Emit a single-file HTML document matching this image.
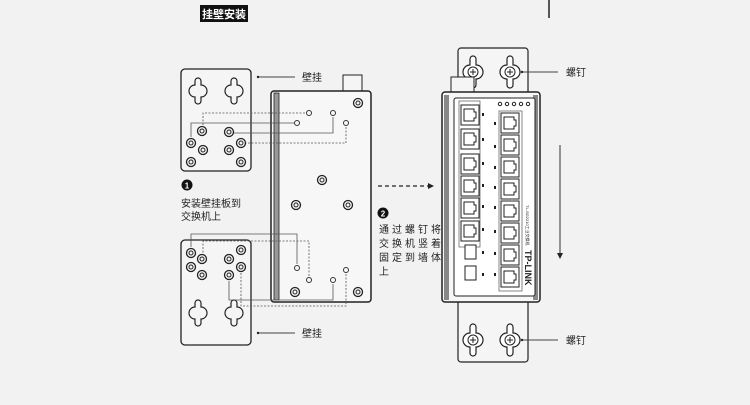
<!DOCTYPE html>
<html><head><meta charset="utf-8"><style>
body{margin:0;background:#f2f2f2;}
svg{display:block}
text{font-family:"Liberation Sans","Noto Sans CJK SC",sans-serif;fill:#222}
</style></head><body>
<svg width="750" height="405" viewBox="0 0 750 405" xmlns="http://www.w3.org/2000/svg">
<rect width="750" height="405" fill="#f2f2f2"/>
<rect x="200" y="5" width="48" height="17" fill="#111"/>
<text x="224" y="18" font-size="11" text-anchor="middle" style="fill:#fff" font-weight="bold">挂壁安装</text>
<line x1="549" y1="0" x2="549" y2="18" stroke="#222" stroke-width="1.5"/>

<defs>
<g id="hole"><circle r="4.5" fill="none" stroke="#222" stroke-width="1.3"/><circle r="2" fill="none" stroke="#222" stroke-width="1"/></g>
<g id="key"><path d="M-3,-10 a3,3 0 0 1 6,0 l0,4 a6,6 0 0 1 0,12 l0,4 a3,3 0 0 1 -6,0 l0,-4 a6,6 0 0 1 0,-12 z" fill="none" stroke="#222" stroke-width="1.2"/></g>
<g id="sh"><circle r="2.5" fill="none" stroke="#333" stroke-width="1"/></g>
<g id="screw"><path d="M-3,-13 a3,3 0 0 1 6,0 l0,6 a7,7 0 0 1 0,14 l0,6 a3,3 0 0 1 -6,0 l0,-6 a7,7 0 0 1 0,-14 z" fill="#fff" stroke="#222" stroke-width="1.2"/><circle r="5" fill="#fff" stroke="#222"/><path d="M-3,0h6M0,-3v6" stroke="#222"/></g>
<g id="port"><rect x="0" y="0" width="18" height="20" fill="#fff" stroke="#222"/><path d="M3,4h10v3h2v6h-2v3h-10z" fill="none" stroke="#222"/></g>
</defs>

<rect x="181" y="69" width="70" height="102" rx="4" fill="#f5f5f5" stroke="#222" stroke-width="1.3"/>
<use href="#key" x="198" y="91"/><use href="#key" x="234" y="91"/>
<use href="#hole" x="202" y="131"/><use href="#hole" x="229" y="132"/>
<use href="#hole" x="191" y="143"/><use href="#hole" x="241" y="143"/>
<use href="#hole" x="203" y="150"/><use href="#hole" x="229" y="150"/>
<use href="#hole" x="191" y="162"/><use href="#hole" x="241" y="162"/>
<line x1="258" y1="77" x2="295" y2="77" stroke="#444"/><circle cx="258" cy="77" r="1.2" fill="#222"/>
<text x="302" y="81" font-size="10">壁挂</text>

<rect x="181" y="240" width="70" height="105" rx="4" fill="#f5f5f5" stroke="#222" stroke-width="1.3"/>
<use href="#hole" x="191" y="253"/><use href="#hole" x="241" y="250"/>
<use href="#hole" x="202" y="259"/><use href="#hole" x="229" y="259"/>
<use href="#hole" x="191" y="267"/><use href="#hole" x="241" y="267"/>
<use href="#hole" x="202" y="275"/><use href="#hole" x="229" y="275"/>
<use href="#key" x="198" y="313"/><use href="#key" x="234" y="313"/>
<line x1="258" y1="333" x2="295" y2="333" stroke="#444"/><circle cx="258" cy="333" r="1.2" fill="#222"/>
<text x="302" y="337" font-size="10">壁挂</text>

<rect x="343" y="75" width="19" height="17" fill="#f5f5f5" stroke="#222"/>
<rect x="271" y="91" width="100" height="211" rx="3" fill="#f7f7f7" stroke="#222" stroke-width="1.5"/>
<rect x="274" y="93" width="5" height="207" fill="#999" stroke="#222" stroke-width="0.8"/>
<use href="#hole" x="358" y="103"/><use href="#hole" x="322" y="180"/><use href="#hole" x="296" y="205"/><use href="#hole" x="348" y="205"/>
<use href="#hole" x="295" y="292"/><use href="#hole" x="358" y="292"/>
<use href="#sh" x="309" y="113"/><use href="#sh" x="333" y="113"/><use href="#sh" x="297" y="123"/><use href="#sh" x="346" y="123"/>
<use href="#sh" x="297" y="268"/><use href="#sh" x="309" y="280"/><use href="#sh" x="333" y="280"/><use href="#sh" x="346" y="270"/>
<g fill="none" stroke="#555" stroke-width="0.8">
<path d="M305,113H203V125" stroke-dasharray="2,1.5"/>
<path d="M294,123H191V137"/>
<path d="M333,117V133H234"/>
<path d="M346,127V143H246" stroke-dasharray="2,1.5"/>
<path d="M297,264V234H191V247"/>
<path d="M309,276V241H203V253" stroke-dasharray="2,1.5"/>
<path d="M333,284V300H229V281"/>
<path d="M346,274V306H241V273" stroke-dasharray="2,1.5"/>
</g>

<circle cx="187" cy="185" r="5.5" fill="#111"/><text x="187" y="188.5" font-size="8" text-anchor="middle" style="fill:#fff" font-weight="bold">1</text>
<text x="181" y="207" font-size="10">安装壁挂板到</text>
<text x="181" y="220" font-size="10">交换机上</text>

<line x1="378" y1="186" x2="428" y2="186" stroke="#222" stroke-dasharray="4,3" stroke-width="1.2"/>
<path d="M428,183 L434,186 L428,189z" fill="#222"/>
<circle cx="383" cy="213" r="5.5" fill="#111"/><text x="383" y="216.5" font-size="8" text-anchor="middle" style="fill:#fff" font-weight="bold">2</text>
<text x="379" y="233" font-size="10" letter-spacing="3">通过螺钉将</text>
<text x="379" y="247" font-size="10" letter-spacing="3">交换机竖着</text>
<text x="379" y="261" font-size="10" letter-spacing="3">固定到墙体</text>
<text x="379" y="275" font-size="10">上</text>

<rect x="458" y="48" width="70" height="50" rx="3" fill="#f5f5f5" stroke="#222" stroke-width="1.2"/>
<rect x="458" y="298" width="70" height="64" rx="3" fill="#f5f5f5" stroke="#222" stroke-width="1.2"/>
<use href="#screw" x="473" y="72"/><use href="#screw" x="510" y="72"/>
<rect x="451" y="77" width="23" height="16" fill="#f5f5f5" stroke="#222"/>
<rect x="442" y="92" width="98" height="210" rx="3" fill="#f7f7f7" stroke="#222" stroke-width="1.5"/>
<rect x="444" y="95" width="5" height="205" fill="#888"/><rect x="533" y="95" width="5" height="205" fill="#888"/>
<rect x="454" y="98" width="81" height="198" rx="2" fill="#fff" stroke="#222"/>
<rect x="459" y="101" width="21" height="146" fill="none" stroke="#555" stroke-width="0.7"/>
<rect x="499" y="111" width="23" height="180" fill="none" stroke="#555" stroke-width="0.7"/>
<use href="#port" x="461" y="105"/><use href="#port" x="461" y="129"/><use href="#port" x="461" y="154"/><use href="#port" x="461" y="176"/><use href="#port" x="461" y="198"/><use href="#port" x="461" y="221"/>
<rect x="465" y="245" width="11" height="14" fill="#fff" stroke="#222"/><rect x="465" y="266" width="11" height="14" fill="#fff" stroke="#222"/>
<use href="#port" x="501" y="113"/><use href="#port" x="501" y="135"/><use href="#port" x="501" y="157"/><use href="#port" x="501" y="179"/><use href="#port" x="501" y="201"/><use href="#port" x="501" y="223"/><use href="#port" x="501" y="245"/><use href="#port" x="501" y="267"/>
<g fill="#222"><rect x="482" y="113" width="2" height="3"/><rect x="482" y="138" width="2" height="3"/><rect x="482" y="162" width="2" height="3"/><rect x="482" y="184" width="2" height="3"/><rect x="482" y="205" width="2" height="3"/><rect x="482" y="228" width="2" height="3"/><rect x="482" y="251" width="2" height="3"/><rect x="482" y="273" width="2" height="3"/>
<rect x="494" y="122" width="2" height="3"/><rect x="494" y="145" width="2" height="3"/><rect x="494" y="166" width="2" height="3"/><rect x="494" y="186" width="2" height="3"/><rect x="494" y="206" width="2" height="3"/><rect x="494" y="230" width="2" height="3"/><rect x="494" y="252" width="2" height="3"/><rect x="494" y="273" width="2" height="3"/></g>
<g fill="none" stroke="#222"><circle cx="500" cy="104" r="1.7"/><circle cx="507" cy="104" r="1.7"/><circle cx="514" cy="104" r="1.7"/><circle cx="521" cy="104" r="1.7"/><circle cx="528" cy="104" r="1.7"/></g>
<text transform="translate(525,250) rotate(90)" font-size="9" font-weight="bold">TP-LINK</text>
<text transform="translate(526,205) rotate(90)" font-size="4">TL-SG2210工业交换机</text>
<use href="#screw" x="473" y="340"/><use href="#screw" x="510" y="340"/>
<line x1="522" y1="72" x2="558" y2="72" stroke="#444"/><circle cx="522" cy="72" r="1.2" fill="#222"/>
<text x="566" y="76" font-size="10">螺钉</text>
<line x1="522" y1="340" x2="558" y2="340" stroke="#444"/><circle cx="522" cy="340" r="1.2" fill="#222"/>
<text x="566" y="344" font-size="10">螺钉</text>
<line x1="560" y1="145" x2="560" y2="254" stroke="#333"/>
<path d="M557,253 L560,259 L563,253z" fill="#222"/>
</svg>
</body></html>
